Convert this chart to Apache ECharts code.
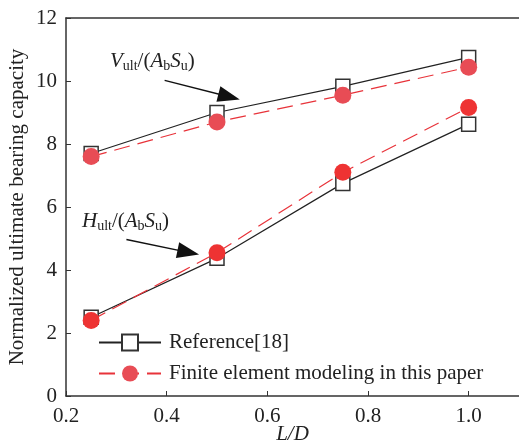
<!DOCTYPE html>
<html>
<head>
<meta charset="utf-8">
<script src="https://cdn.jsdelivr.net/npm/echarts@6/dist/echarts.min.js"></script>
<style>html,body{margin:0;padding:0;background:#fff;}#c{width:519px;height:441px;}</style>
</head>
<body>
<div id="c"></div>
<script>
const xValues = [0.25, 0.5, 0.75, 1.0];
const refV = [7.7, 9.0, 9.83, 10.75];
const feV = [7.6, 8.7, 9.55, 10.44];
const refH = [2.5, 4.37, 6.75, 8.63];
const feH = [2.4, 4.55, 7.1, 9.16];
const refName = 'Reference[18]';
const feName = 'Finite element modeling in this paper';
const arrowV = [[0.396, 10.02], [0.524, 9.50]];
const arrowH = [[0.320, 4.97], [0.443, 4.56]];

const FONT = 'Liberation Serif';
const pair = (xs, ys) => xs.map((x, i) => [x, ys[i]]);
const chart = echarts.init(document.getElementById('c'));

const refStyle = {
  type: 'line', name: refName, symbol: 'rect', symbolSize: 14,
  lineStyle: { color: '#222', width: 1.2 },
  itemStyle: { color: '#fff', borderColor: '#333', borderWidth: 1.5 },
  z: 3
};
const feStyle = (c) => ({
  type: 'line', name: feName, symbol: 'circle', symbolSize: 17,
  lineStyle: { color: '#e8333a', width: 1.2, type: [16, 8] },
  itemStyle: { color: c, borderWidth: 0 },
  z: 4
});
const arrowMark = (seg) => ({
  silent: true, symbol: ['none', 'triangle'], symbolSize: 18,
  label: { show: false },
  lineStyle: { color: '#111', width: 1.5, type: 'solid' },
  emphasis: { disabled: true },
  data: [[{ coord: seg[0] }, { coord: seg[1], symbolSize: [16, 22] }]]
});

chart.setOption({
  animation: false,
  backgroundColor: '#fff',
  grid: { left: 66, right: 0, top: 18, bottom: 45, outerBoundsMode: 'none', containLabel: false },
  textStyle: { fontFamily: FONT },
  legend: {
    orient: 'vertical', left: 98, top: 332, itemWidth: 62, itemHeight: 20, itemGap: 10, padding: 0,
    data: [refName, feName],
    textStyle: { fontFamily: FONT, fontSize: 21, color: '#222', padding: [0, 0, 0, 3] }
  },
  xAxis: [{
    type: 'value', min: 0.2, max: 1.1, interval: 0.2,
    name: 'L/D', nameLocation: 'middle', nameGap: 28, nameMoveOverlap: false,
    nameTextStyle: { fontFamily: FONT, fontSize: 21, fontStyle: 'italic', color: '#222' },
    axisLine: { show: true, lineStyle: { color: '#333', width: 1.5 } },
    axisTick: { show: true, inside: true, length: 5, lineStyle: { color: '#333' } },
    axisLabel: { fontFamily: FONT, fontSize: 21, color: '#222', margin: 10, showMaxLabel: false,
      formatter: v => v.toFixed(1) },
    splitLine: { show: false }
  }, {
    type: 'value', position: 'top', min: 0.2, max: 1.1,
    axisLine: { show: true, lineStyle: { color: '#333', width: 1.5 } },
    axisTick: { show: false }, axisLabel: { show: false }, splitLine: { show: false }
  }],
  yAxis: {
    type: 'value', min: 0, max: 12, interval: 2,
    name: 'Normalized ultimate bearing capacity', nameLocation: 'middle', nameGap: 38, nameMoveOverlap: false,
    nameTextStyle: { fontFamily: FONT, fontSize: 21, color: '#222' },
    axisLine: { show: true, lineStyle: { color: '#333', width: 1.5 } },
    axisTick: { show: true, inside: true, length: 5, lineStyle: { color: '#333' } },
    axisLabel: { fontFamily: FONT, fontSize: 21, color: '#222', margin: 9 },
    splitLine: { show: false }
  },
  graphic: [
    { type: 'text', left: 110, top: 51, z: 10, style: {
      text: '{i|V}{s|ult}{n|/(}{i|A}{s|b}{i|S}{s|u}{n|)}',
      rich: {
        i: { fontFamily: FONT, fontSize: 21, fontStyle: 'italic', lineHeight: 24, fill: '#222' },
        n: { fontFamily: FONT, fontSize: 21, lineHeight: 24, fill: '#222' },
        s: { fontFamily: FONT, fontSize: 14, lineHeight: 12, verticalAlign: 'bottom', fill: '#222' }
      } } },
    { type: 'text', left: 82, top: 211, z: 10, style: {
      text: '{i|H}{s|ult}{n|/(}{i|A}{s|b}{i|S}{s|u}{n|)}',
      rich: {
        i: { fontFamily: FONT, fontSize: 21, fontStyle: 'italic', lineHeight: 24, fill: '#222' },
        n: { fontFamily: FONT, fontSize: 21, lineHeight: 24, fill: '#222' },
        s: { fontFamily: FONT, fontSize: 14, lineHeight: 12, verticalAlign: 'bottom', fill: '#222' }
      } } }
  ],
  series: [
    Object.assign({}, refStyle, { data: pair(xValues, refV), markLine: arrowMark(arrowV) }),
    Object.assign({}, feStyle('#e84c55'), { data: pair(xValues, feV) }),
    Object.assign({}, refStyle, { data: pair(xValues, refH), markLine: arrowMark(arrowH) }),
    Object.assign({}, feStyle('#ee3333'), { data: pair(xValues, feH) })
  ]
});
</script>
</body>
</html>
